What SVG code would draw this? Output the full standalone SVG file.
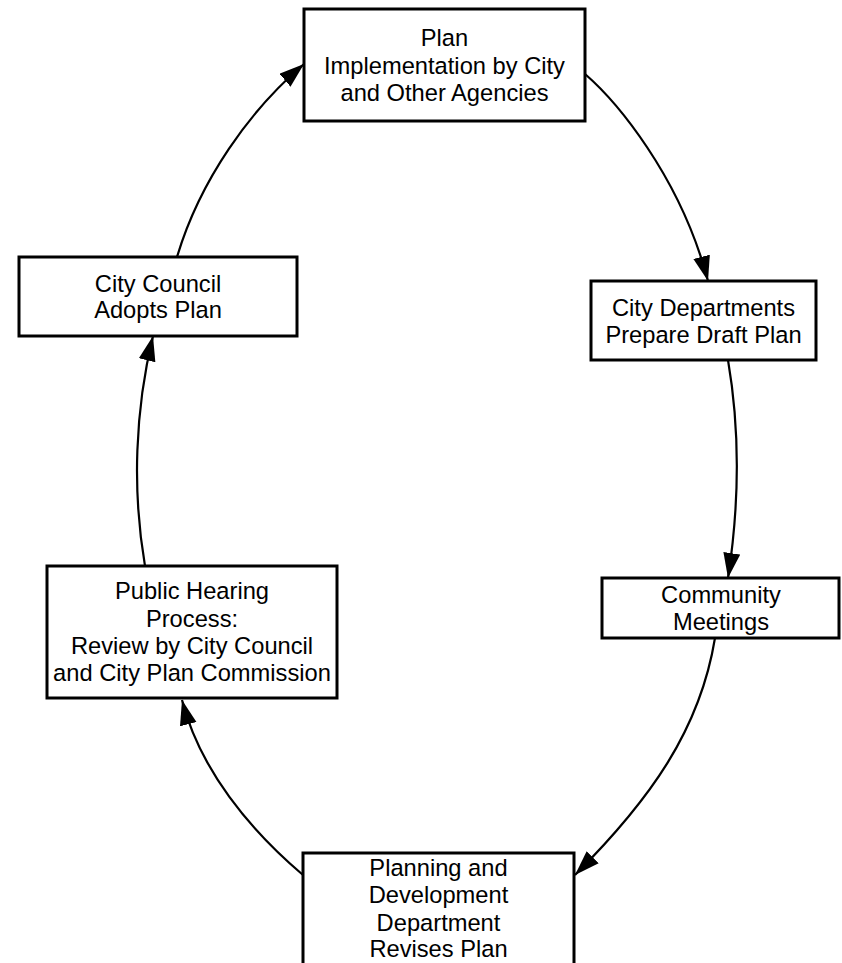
<svg xmlns="http://www.w3.org/2000/svg" width="842" height="963" viewBox="0 0 842 963">
<style>
.box{fill:#fff;stroke:#000;stroke-width:3}
.lbl{font-family:"Liberation Sans",Arial,sans-serif;font-size:23.7px;fill:#000;text-anchor:middle}
.conn{fill:none;stroke:#000;stroke-width:2.2}
</style>
<defs>
<marker id="arr" markerUnits="userSpaceOnUse" markerWidth="28" markerHeight="20" refX="25" refY="8.5" orient="auto">
<path d="M0,0 L25,8.5 L0,17 z" fill="#000"/>
</marker>
</defs>
<rect width="842" height="963" fill="#fff"/>
<g id="connectors">
<path class="conn" d="M585,74 C615,100 680,175 708,281" marker-end="url(#arr)"/>
<path class="conn" d="M728,360 C740,430 740,500 728,578" marker-end="url(#arr)"/>
<path class="conn" d="M715,638 C700,730 650,800 575,875" marker-end="url(#arr)"/>
<path class="conn" d="M303,875 C250,830 200,770 182,700" marker-end="url(#arr)"/>
<path class="conn" d="M145,566 C132,490 135,410 153,336" marker-end="url(#arr)"/>
<path class="conn" d="M177,257 C200,180 250,110 304,64" marker-end="url(#arr)"/>
</g>
<g id="plan-implementation">
<rect class="box" x="304" y="9" width="281" height="112"/>
<text class="lbl" x="444.5" y="46">Plan</text>
<text class="lbl" x="444.5" y="73.5">Implementation by City</text>
<text class="lbl" x="444.5" y="101">and Other Agencies</text>
</g>
<g id="city-departments">
<rect class="box" x="591" y="281" width="225" height="79"/>
<text class="lbl" x="703.5" y="316">City Departments</text>
<text class="lbl" x="703.5" y="343">Prepare Draft Plan</text>
</g>
<g id="community-meetings">
<rect class="box" x="602" y="578" width="237" height="60"/>
<text class="lbl" x="721" y="603">Community</text>
<text class="lbl" x="721" y="630">Meetings</text>
</g>
<g id="planning-development">
<rect class="box" x="303" y="853" width="271" height="130"/>
<text class="lbl" x="438.5" y="876">Planning and</text>
<text class="lbl" x="438.5" y="903">Development</text>
<text class="lbl" x="438.5" y="931">Department</text>
<text class="lbl" x="438.5" y="957">Revises Plan</text>
</g>
<g id="public-hearing">
<rect class="box" x="47" y="566" width="290" height="132"/>
<text class="lbl" x="192" y="599">Public Hearing</text>
<text class="lbl" x="192" y="627">Process:</text>
<text class="lbl" x="192" y="654">Review by City Council</text>
<text class="lbl" x="192" y="681">and City Plan Commission</text>
</g>
<g id="city-council">
<rect class="box" x="19" y="257" width="278" height="79"/>
<text class="lbl" x="158" y="292">City Council</text>
<text class="lbl" x="158" y="318">Adopts Plan</text>
</g>
</svg>
